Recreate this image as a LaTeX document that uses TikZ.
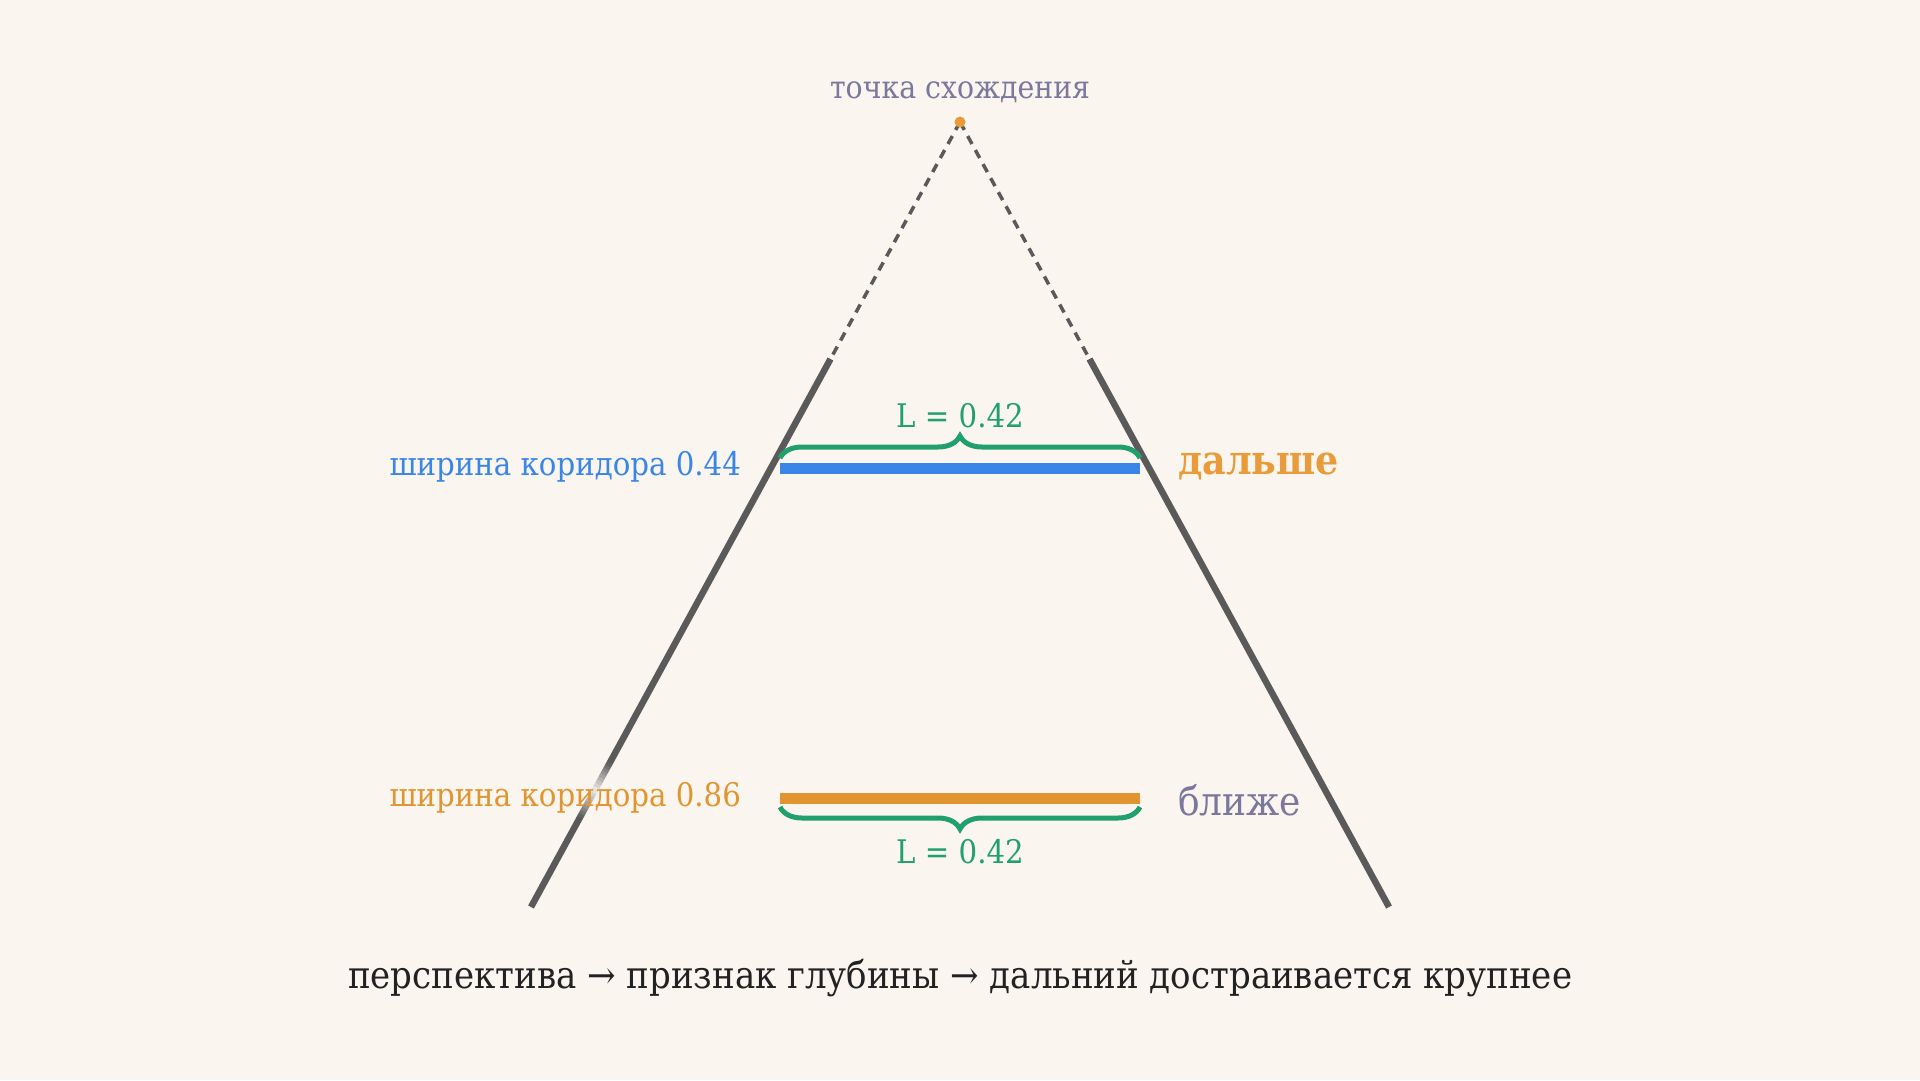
\documentclass[tikz,border=0pt]{standalone}
\usepackage{fontspec}
\setmainfont{DejaVu Serif Condensed}
\usetikzlibrary{decorations.pathreplacing,calc}
\definecolor{bg}{HTML}{FAF5EE}
\definecolor{rail}{HTML}{5A5A5A}
\definecolor{barblue}{HTML}{3A86E8}
\definecolor{barorange}{HTML}{E09530}
\definecolor{farorange}{HTML}{E89B38}
\definecolor{brgreen}{HTML}{22A06B}
\definecolor{mutedtxt}{HTML}{7A789C}
\definecolor{maintxt}{HTML}{222222}
\tikzset{
  railline/.style={draw=rail,line width=6.5pt},
  guide/.style={draw=rail,line width=3.5pt,dash pattern=on 9pt off 7pt},
  barline/.style={line width=11pt},
  bracel/.style={draw=brgreen,line width=5pt,decorate,decoration={brace,amplitude=22pt}},
  lbl/.style={inner sep=0pt,font=\fontsize{32.5}{38}\selectfont},
}
\begin{document}
\begin{tikzpicture}[x=1pt,y=-1pt]
\fill[bg] (0,0) rectangle (1920,1080);
\useasboundingbox (0,0) rectangle (1920,1080);
% geometry
\coordinate (vp) at (960,122);
\coordinate (lb) at (531,907);
\coordinate (rb) at (1389,907);
\coordinate (lt) at ($(vp)!0.3019!(lb)$);
\coordinate (rt) at ($(vp)!0.3019!(rb)$);
% rails
\draw[guide] (vp) -- (lt);
\draw[guide] (vp) -- (rt);
\draw[railline] (lt) -- (lb);
\draw[railline] (rt) -- (rb);
% fade glare on left rail
\foreach \i in {0,...,17}{
  \pgfmathsetmacro{\ya}{763+3*\i}
  \pgfmathsetmacro{\yb}{766+3*\i}
  \pgfmathsetmacro{\op}{0.92*(1-abs(\i-8.5)/9)}
  \draw[draw=bg!60!white,line width=7.5pt,opacity=\op]
    ($(vp)!{(\ya-122)/785}!(lb)$) -- ($(vp)!{(\yb-122)/785}!(lb)$);
}
% vanishing point
\fill[farorange] (vp) circle (5.5pt);
\node[lbl,text=mutedtxt,font=\fontsize{31.5}{36}\selectfont] (vptxt) at (960,92) {точка схождения};
% far bar
\coordinate (fa) at (780,468);
\coordinate (fb) at (1140,468);
\draw[barline,draw=barblue] (fa) -- (fb);
\coordinate (fbra) at (780,458);
\coordinate (fbrb) at (1140,458);
\draw[bracel] (fbra) -- (fbrb);
\node[lbl,text=brgreen] (fL) at (960,416) {L = 0.42};
\node[lbl,text=barblue,anchor=east] (fw) at (741,467) {ширина коридора 0.44};
\node[lbl,text=farorange,anchor=west,font=\fontsize{40.5}{46}\selectfont\bfseries] (far) at (1178,466) {дальше};
% near bar
\coordinate (na) at (780,798);
\coordinate (nb) at (1140,798);
\draw[barline,draw=barorange] (na) -- (nb);
\coordinate (nbra) at (1140,807);
\coordinate (nbrb) at (780,807);
\draw[bracel] (nbra) -- (nbrb);
\node[lbl,text=brgreen] (nL) at (960,852) {L = 0.42};
\node[lbl,text=barorange,anchor=east] (nw) at (741,798) {ширина коридора 0.86};
\node[lbl,text=mutedtxt,anchor=west,font=\fontsize{40}{46}\selectfont] (near) at (1178,800) {ближе};
% caption
\node[lbl,text=maintxt,font=\fontsize{37.8}{44}\selectfont] (cap) at (960,978) {перспектива → признак глубины → дальний достраивается крупнее};
\end{tikzpicture}
\end{document}
